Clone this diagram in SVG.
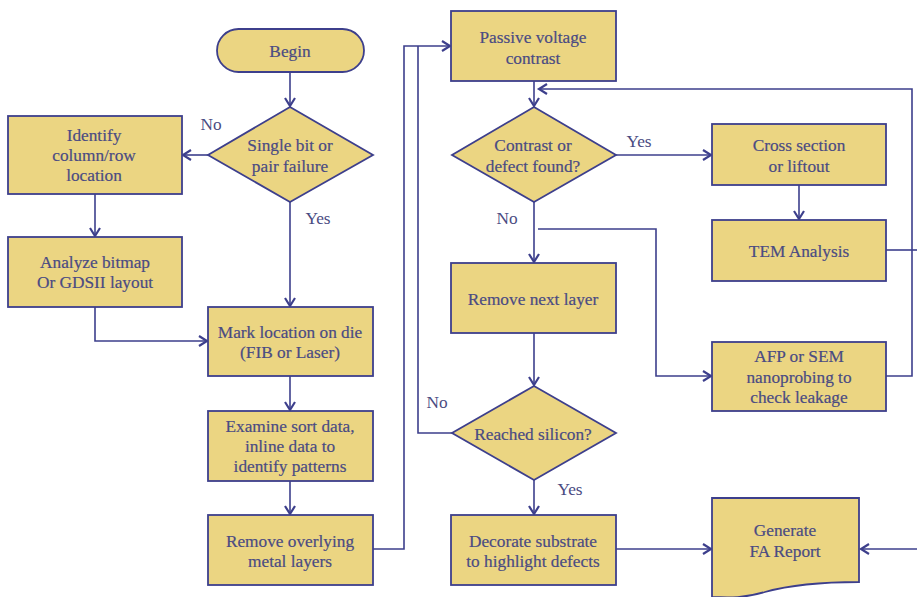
<svg xmlns="http://www.w3.org/2000/svg" width="917" height="597" viewBox="0 0 917 597">
<defs>
<marker id="ah" markerWidth="12" markerHeight="12" refX="9" refY="6" orient="auto" markerUnits="userSpaceOnUse">
<path d="M1,1 L9,6 L1,11" fill="none" stroke="#3d3f8c" stroke-width="2.2"/>
</marker>
<style>
.n{fill:#ebd582;stroke:#3d3f8c;stroke-width:1.8}
.t{font-family:"Liberation Serif","Times New Roman",serif;font-size:17.3px;fill:#4a4b82;text-anchor:middle;stroke:#4a4b82;stroke-width:0.2}
.l{font-family:"Liberation Serif","Times New Roman",serif;font-size:17.3px;fill:#4a4b82;text-anchor:middle}
.c{fill:none;stroke:#3d3f8c;stroke-width:1.6}
.a{marker-end:url(#ah)}
</style>
</defs>
<rect width="917" height="597" fill="#fff"/>
<g id="connectors">
<path class="c a" d="M290,72 V106"/>
<path class="c a" d="M208,155 H183"/>
<path class="c a" d="M290,202 V306"/>
<path class="c a" d="M95,194 V236"/>
<path class="c a" d="M95,307 V341 H207"/>
<path class="c a" d="M290,376 V410"/>
<path class="c a" d="M290,481 V514"/>
<path class="c a" d="M373,549 H404 V46 H450"/>
<path class="c" d="M418,46 V433 H452"/>
<path class="c a" d="M534,81 V106"/>
<path class="c a" d="M616,155 H711"/>
<path class="c a" d="M799,185 V219"/>
<path class="c a" d="M534,202 V262"/>
<path class="c a" d="M538,229 H656 V376 H711"/>
<path class="c a" d="M534,333 V385"/>
<path class="c a" d="M534,480 V514"/>
<path class="c a" d="M616,549 H711"/>
<path class="c a" d="M917,549 H861"/>
<path class="c a" d="M886,376 H912 V89 H539"/>
<path class="c" d="M886,250 H917"/>
</g>
<g id="begin"><rect class="n" x="217" y="29" width="147" height="43" rx="21.5"/><text class="t" x="290" y="57">Begin</text></g>
<g id="single"><polygon class="n" points="290,107 373,155 290,202 208,155"/><text class="t" x="290" y="151">Single bit or</text><text class="t" x="290" y="172">pair failure</text></g>
<g id="identify"><rect class="n" x="8" y="116" width="174" height="78"/><text class="t" x="94" y="141">Identify</text><text class="t" x="94" y="161">column/row</text><text class="t" x="94" y="181">location</text></g>
<g id="analyze"><rect class="n" x="8" y="237" width="174" height="70"/><text class="t" x="95" y="268">Analyze bitmap</text><text class="t" x="95" y="288">Or GDSII layout</text></g>
<g id="mark"><rect class="n" x="208" y="307" width="165" height="69"/><text class="t" x="290" y="338">Mark location on die</text><text class="t" x="290" y="358">(FIB or Laser)</text></g>
<g id="examine"><rect class="n" x="208" y="411" width="165" height="70"/><text class="t" x="290" y="432">Examine sort data,</text><text class="t" x="290" y="452">inline data to</text><text class="t" x="290" y="472">identify patterns</text></g>
<g id="removemetal"><rect class="n" x="208" y="515" width="165" height="70"/><text class="t" x="290" y="547">Remove overlying</text><text class="t" x="290" y="567">metal layers</text></g>
<g id="passive"><rect class="n" x="451" y="11" width="165" height="70"/><text class="t" x="533" y="43">Passive voltage</text><text class="t" x="533" y="64">contrast</text></g>
<g id="contrast"><polygon class="n" points="534,107 616,155 534,202 452,155"/><text class="t" x="533" y="151">Contrast or</text><text class="t" x="533" y="172">defect found?</text></g>
<g id="cross"><rect class="n" x="712" y="124" width="174" height="61"/><text class="t" x="799" y="151">Cross section</text><text class="t" x="799" y="172">or liftout</text></g>
<g id="tem"><rect class="n" x="712" y="220" width="174" height="61"/><text class="t" x="799" y="257">TEM Analysis</text></g>
<g id="removenext"><rect class="n" x="451" y="263" width="165" height="70"/><text class="t" x="533" y="305">Remove next layer</text></g>
<g id="afp"><rect class="n" x="712" y="342" width="174" height="69"/><text class="t" x="799" y="362">AFP or SEM</text><text class="t" x="799" y="383">nanoprobing to</text><text class="t" x="799" y="403">check leakage</text></g>
<g id="reached"><polygon class="n" points="534,386 616,433 534,480 452,433"/><text class="t" x="533" y="440">Reached silicon?</text></g>
<g id="decorate"><rect class="n" x="451" y="515" width="165" height="70"/><text class="t" x="533" y="547">Decorate substrate</text><text class="t" x="533" y="567">to highlight defects</text></g>
<g id="generate"><path class="n" d="M712,498 H859 V582 C820,582 790,585 765,592 C745,598 730,598 712,597 Z"/><text class="t" x="785" y="536">Generate</text><text class="t" x="785" y="557">FA Report</text></g>
<g id="labels">
<text class="l" x="211" y="130">No</text>
<text class="l" x="318" y="224">Yes</text>
<text class="l" x="639" y="147">Yes</text>
<text class="l" x="507" y="224">No</text>
<text class="l" x="437" y="408">No</text>
<text class="l" x="570" y="495">Yes</text>
</g>
</svg>
